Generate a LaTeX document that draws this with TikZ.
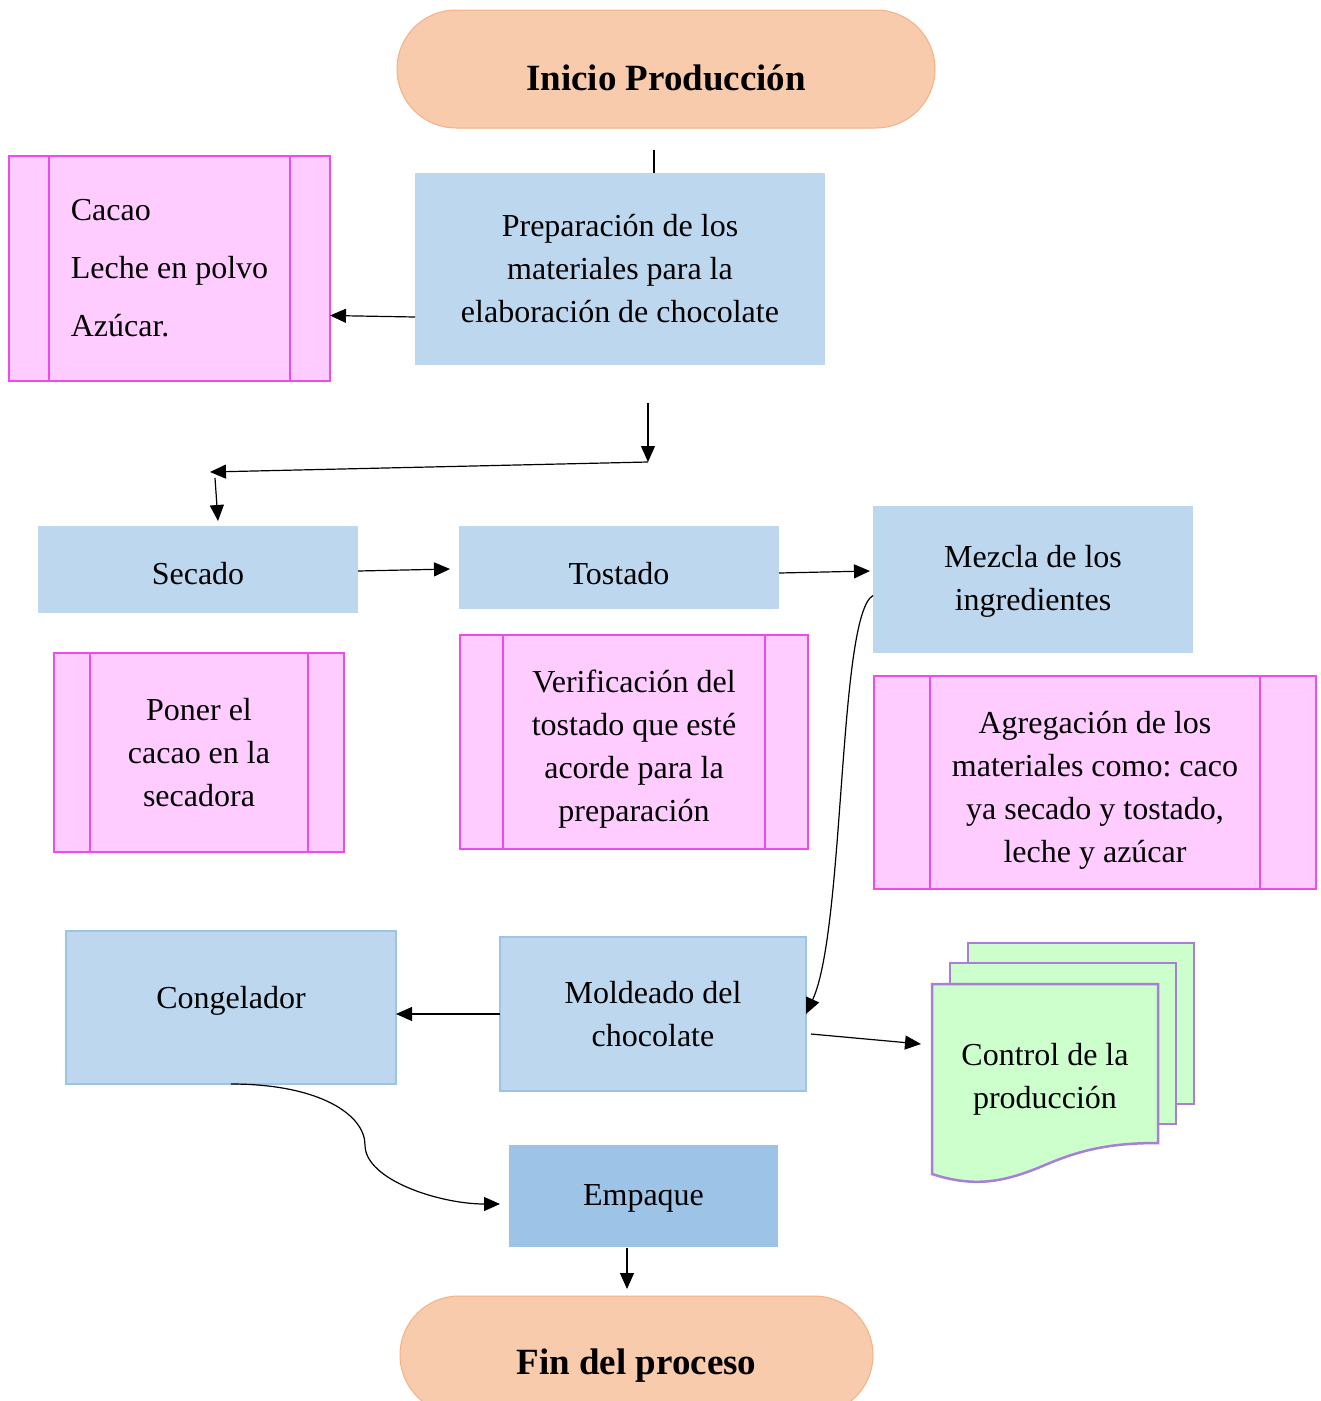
\documentclass[tikz,border=0pt]{standalone}
\usepackage{fontspec}
\setmainfont{Liberation Serif}
\usetikzlibrary{arrows.meta,calc}
\definecolor{procfill}{HTML}{BDD7EE}
\definecolor{procline}{HTML}{9DC3E6}
\definecolor{termfill}{HTML}{F8CBAD}
\definecolor{termline}{HTML}{F4B183}
\definecolor{subfill}{HTML}{FFCCFF}
\definecolor{subline}{HTML}{EE4BEE}
\definecolor{docfill}{HTML}{CCFFCC}
\definecolor{docline}{HTML}{A97FD6}
% invisible struts to move text inside a box
\newcommand{\padtop}[1]{\rule{0pt}{#1}}
\newcommand{\padbot}[1]{\rule[-#1]{0pt}{#1}}
\tikzset{
  proc/.style={rectangle, fill=procfill, inner sep=0pt, outer sep=0pt, align=center,
    font=\fontsize{32}{43}\selectfont},
  sub/.style={rectangle, draw=subline, fill=subfill, line width=2.5pt, inner sep=0pt,
    outer sep=0pt, align=center, font=\fontsize{32}{43}\selectfont},
  term/.style={rectangle, rounded corners=59pt, draw=termline, fill=termfill, line width=1pt,
    inner sep=0pt, outer sep=0pt, minimum height=118pt, font=\bfseries\fontsize{37}{44}\selectfont},
  sideline/.style={draw=subline, line width=2.5pt},
  docpage/.style={draw=docline, fill=docfill, line width=2.5pt},
  arr/.style={-{Triangle[length=16pt,width=14pt]}, line width=1.2pt}
}
\begin{document}
\begin{tikzpicture}[x=1pt,y=-1pt]
    \useasboundingbox (0,0) rectangle (1321,1401);
    % Terminal nodes
    \node[term, minimum width=538pt] (start) at (666,69) {\padtop{44pt}Inicio Producción};
    \node[term, minimum width=473pt] (fin) at (636.5,1355) {\padtop{47pt}Fin del proceso};
    % Process boxes
    \node[proc, minimum width=410pt, minimum height=192pt] (prep) at (620,269)
      {Preparación de los\\materiales para la\\elaboración de chocolate};
    \node[proc, minimum width=320pt, minimum height=87pt] (sec) at (198,569.5)
      {\padtop{30pt}Secado};
    \node[proc, minimum width=320pt, minimum height=83pt] (tost) at (619,567.5)
      {\padtop{34pt}Tostado};
    \node[proc, minimum width=320pt, minimum height=147pt] (mez) at (1033,579.5)
      {\padtop{26pt}Mezcla de los\\ingredientes};
    \node[proc, draw=procline, line width=2.5pt, minimum width=330pt, minimum height=153pt]
      (cong) at (231,1007.5) {Congelador\padbot{21pt}};
    \node[proc, draw=procline, line width=2.5pt, minimum width=306pt, minimum height=154pt]
      (mold) at (653,1014) {Moldeado del\\chocolate};
    \node[proc, fill=procline, minimum width=269pt, minimum height=102pt] (emp) at (643.5,1196)
      {\padtop{26pt}Empaque};
    % Subprocess boxes
    \node[sub, minimum width=321pt, minimum height=225pt, align=left,
      font=\fontsize{32}{58}\selectfont] (ingr) at (169.5,268.5)
      {Cacao\\Leche en polvo\\Azúcar.};
    \node[sub, minimum width=290pt, minimum height=199pt] (poner) at (199,752.5)
      {Poner el\\cacao en la\\secadora};
    \node[sub, minimum width=348pt, minimum height=214pt] (verif) at (634,742)
      {\padtop{37pt}Verificación del\\tostado que esté\\acorde para la\\preparación};
    \node[sub, minimum width=442pt, minimum height=213pt] (agreg) at (1095,782.5)
      {\padtop{37pt}Agregación de los\\materiales como:\ caco\\ya secado y tostado,\\leche y azúcar};
    \foreach \n/\d in {ingr/40,poner/36,verif/43,agreg/56}
      \draw[sideline] ([xshift=\d]\n.north west) -- ([xshift=\d]\n.south west)
        ([xshift=-\d]\n.north east) -- ([xshift=-\d]\n.south east);
    % Stacked documents
    \draw[docpage] (968,943) rectangle (1194,1104);
    \draw[docpage] (950,963) rectangle (1176,1124);
    \draw[docpage] (932,984) -- (1158,984) -- (1158,1143)
      .. controls (1110,1143) and (1080,1150) .. (1045,1165)
      .. controls (1005,1182) and (975,1188) .. (932,1174) -- cycle;
    \node[font=\fontsize{32}{43}\selectfont, align=center] (ctrl) at (1045,1079)
      {Control de la\\producción};
    \coordinate (ctrlin) at (921,1044);
    % Connectors
    \draw[line width=1.2pt] ($(start.south)+(-12,22)$) -- ($(prep.north)+(34,0)$);
    \draw[arr] ($(prep.west)+(0,48)$) -- ($(ingr.east)+(0,47)$);
    \coordinate (splitR) at (648,462);
    \coordinate (splitL) at (210,472);
    \draw[arr] ($(prep.south)+(28,38)$) -- (splitR);
    \draw[arr] (splitR) -- (splitL);
    \draw[arr] ($(splitL)+(5,6)$) -- ($(sec.north)+(20,-5)$);
    \draw[arr] ($(sec.east)+(0,1.5)$) -- ($(tost.west)+(-9,1.5)$);
    \draw[arr] ($(tost.east)+(0,5.5)$) -- ($(mez.west)+(-3,-8.5)$);
    \draw[arr] ($(mez.west)+(0,16)$) .. controls (838,615) and (845,930) .. (mold.east);
    \draw[arr] (mold.west) -- (mold.west -| cong.east);
    \draw[arr] ($(mold.east)+(5,20)$) -- (ctrlin);
    \draw[arr] (cong.south) .. controls (320,1084) and (365,1115) .. (365,1145)
      .. controls (365,1180) and (440,1204) .. ($(emp.west)+(-9,8)$);
    \draw[arr] ($(emp.south)+(-16.5,1)$) -- ($(fin.north)+(-9.5,-7)$);
\end{tikzpicture}
\end{document}
